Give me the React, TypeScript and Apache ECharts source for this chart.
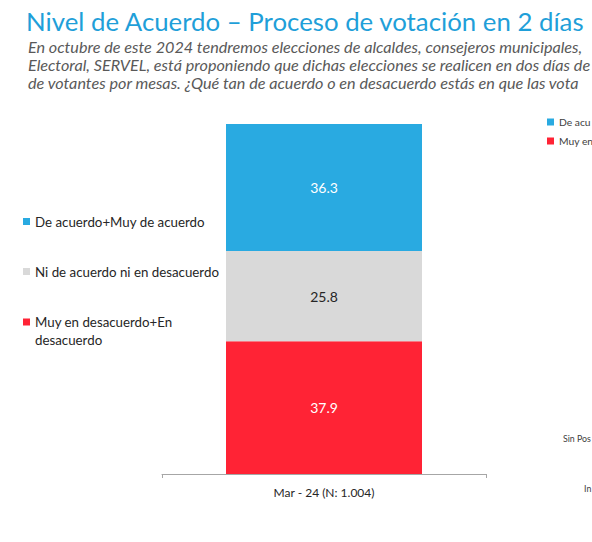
import React, { useEffect, useRef } from "react";
import * as echarts from "echarts";

const titleText = "Nivel de Acuerdo – Proceso de votación en 2 días";
const subtitleLines = [
  "En octubre de este 2024 tendremos elecciones de alcaldes, consejeros municipales,",
  "Electoral, SERVEL, está proponiendo que dichas elecciones se realicen en dos días de",
  "de votantes por mesas. ¿Qué tan de acuerdo o en desacuerdo estás en que las vota",
];
const categories = ["Mar - 24 (N: 1.004)"];
const seriesNames = [
  "Muy en desacuerdo+En desacuerdo",
  "Ni de acuerdo ni en desacuerdo",
  "De acuerdo+Muy de acuerdo",
];
const desacuerdoValues = [37.9];
const neutralValues = [25.8];
const acuerdoValues = [36.3];
const seriesColors = ["#FF2335", "#D9D9D9", "#29AAE1"];
const labelColors = ["#FFFFFF", "#262626", "#FFFFFF"];
const rightLegendNames = ["De acu", "Muy en"];
const cutTexts = ["Sin Pos", "In"];

const FONT = "Lato, 'Open Sans', sans-serif";

export default function App() {
  const ref = useRef<HTMLDivElement>(null);
  useEffect(() => {
    if (!ref.current) return;
    const chart = echarts.init(ref.current, undefined, { renderer: "svg" });
    const values = [desacuerdoValues, neutralValues, acuerdoValues];
    const legendBase = {
      orient: "vertical" as const,
      padding: 0,
      itemWidth: 7,
      itemHeight: 7,
      icon: "rect",
      selectedMode: false,
      textStyle: { fontFamily: FONT, fontSize: 13.3, color: "#262626" },
    };
    const rightText = { ...legendBase.textStyle, fontSize: 10.3, color: "#404040" };
    chart.setOption({
      animation: false,
      backgroundColor: "#FFFFFF",
      textStyle: { fontFamily: FONT },
      title: [
        {
          text: titleText,
          left: 26,
          top: 8,
          padding: 0,
          textStyle: { fontFamily: FONT, fontSize: 25.8, fontWeight: "normal", color: "#1F9FD9" },
        },
        {
          text: subtitleLines.join("\n"),
          left: 28,
          top: 37,
          padding: 0,
          textStyle: {
            fontFamily: FONT,
            fontSize: 16.2,
            fontStyle: "italic",
            fontWeight: "normal",
            color: "#595959",
            lineHeight: 18,
          },
        },
      ],
      legend: [
        { ...legendBase, left: 23, top: 215, data: [seriesNames[2]] },
        { ...legendBase, left: 23, top: 265, data: [seriesNames[1]] },
        {
          ...legendBase,
          left: 23,
          top: 295,
          data: [seriesNames[0]],
          formatter: () => "\nMuy en desacuerdo+En\ndesacuerdo",
          textStyle: { ...legendBase.textStyle, lineHeight: 18 },
        },
        { ...legendBase, left: 547, top: 117, data: [seriesNames[2]], formatter: () => rightLegendNames[0], textStyle: rightText },
        { ...legendBase, left: 547, top: 136, data: [seriesNames[0]], formatter: () => rightLegendNames[1], textStyle: rightText },
      ],
      graphic: [
        { type: "text", left: 563, top: 434, style: { text: cutTexts[0], fontFamily: FONT, fontSize: 8.8, fill: "#404040" } },
        { type: "text", left: 584, top: 484, style: { text: cutTexts[1], fontFamily: FONT, fontSize: 8.8, fill: "#404040" } },
      ],
      grid: { left: 162, right: 106, top: 124, bottom: 68 },
      xAxis: {
        type: "category",
        data: categories,
        axisLine: { lineStyle: { color: "#A6A6A6", width: 1 } },
        axisTick: { show: true, length: 4, lineStyle: { color: "#A6A6A6" } },
        axisLabel: { fontFamily: FONT, fontSize: 12, color: "#262626", margin: 12 },
      },
      yAxis: {
        type: "value",
        min: 0,
        max: 100,
        show: false,
      },
      series: seriesNames.map((name, i) => ({
        name,
        type: "bar",
        stack: "total",
        barWidth: 196,
        data: values[i],
        itemStyle: { color: seriesColors[i] },
        label: {
          show: true,
          position: "inside",
          fontFamily: FONT,
          fontSize: 14,
          color: labelColors[i],
          formatter: (p: any) => Number(p.value).toFixed(1),
        },
      })),
    });
    return () => chart.dispose();
  }, []);
  return (
    <div
      ref={ref}
      style={{ position: "fixed", left: 0, top: 0, width: 592, height: 542 }}
    />
  );
}
